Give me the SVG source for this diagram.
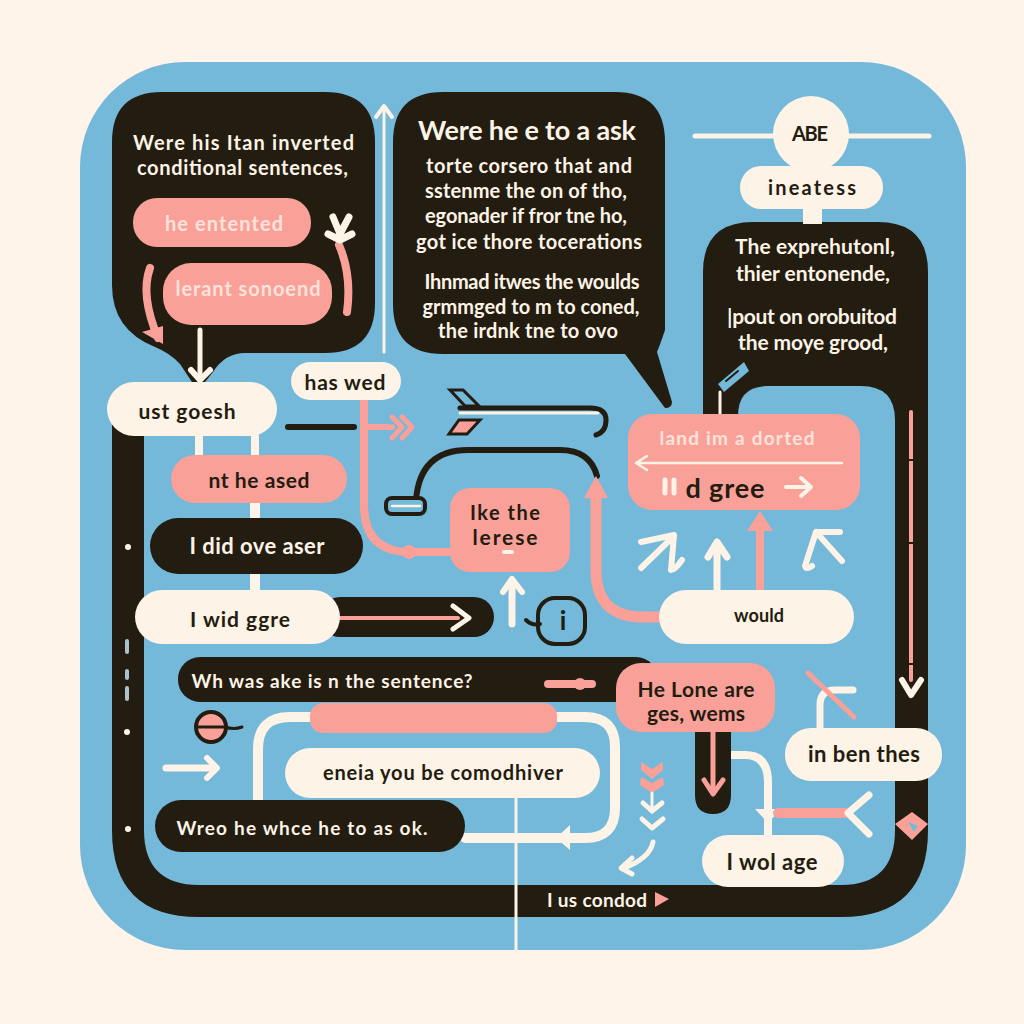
<svg xmlns="http://www.w3.org/2000/svg" width="1024" height="1024" viewBox="0 0 1024 1024">
<style>
text{font-family:"Lato","Liberation Sans",sans-serif;font-weight:700;text-anchor:middle;dominant-baseline:central}
.k{fill:#231c10}.c{fill:#fdf3e6}.p{fill:#f9a199}
.lc{fill:none;stroke:#fdf3e6;stroke-linecap:round;stroke-linejoin:round}
.lp{fill:none;stroke:#f9a199;stroke-linecap:round;stroke-linejoin:round}
.lk{fill:none;stroke:#231c10;stroke-linecap:round;stroke-linejoin:round}
.tc{fill:#fdf3e6}.tk{fill:#231c10}.tl{fill:#fde3da}
</style>
<rect width="1024" height="1024" fill="#fef4ea"/>
<rect x="80" y="62" width="886" height="888" rx="105" fill="#74b8da"/>

<g id="frame">
<path class="k" fill-rule="evenodd" d="M703 425V272Q703 222 753 222H878Q928 222 928 272V830Q928 917 841 917H199Q112 917 112 830V420H144V830Q144 885 199 885H841Q895 885 895 830V420Q895 386 861 386H768Q738 386 738 416V425Z"/>
</g>

<g id="connectors">
<path class="lc" stroke-width="3" d="M384 352V108"/>
<path class="lc" stroke-width="4" d="M376 117L384 106L392 117"/>
<path class="lc" stroke-width="8" d="M199 436V455M255 436V455"/>
<path class="lc" stroke-width="10" d="M255 503V518M255 574V590"/>
<path class="lk" stroke-width="6" d="M288 427H354"/>
<path class="lp" stroke-width="8" d="M364 400V505Q364 552 410 552H450"/>
<path class="lp" stroke-width="6" d="M366 427H392"/>
<path class="lp" stroke-width="5" d="M392 417L402 427L392 438M402 417L412 427L402 438"/>
<circle class="p" cx="409" cy="552" r="7"/>
<path class="lk" stroke-width="5" d="M460 408H590Q606 408 606 420Q606 432 596 435"/>
<path class="lc" stroke-width="3" d="M460 413H598"/>
<path d="M450 390H463L479 406H465Z" fill="#74b8da" stroke="#231c10" stroke-width="3"/>
<path d="M459 420H480L467 434H449Z" fill="#f9a199" stroke="#231c10" stroke-width="3"/>
<path class="lk" stroke-width="6" d="M416 500Q420 450 468 450H560Q590 450 597 476"/>
<rect x="386" y="498" width="39" height="16" rx="6" fill="#74b8da" stroke="#231c10" stroke-width="4"/>
<path class="lc" stroke-width="2.500" d="M392 506H420"/>
<path class="lp" stroke-width="11" d="M596 490V570Q596 617 643 617H660"/>
<path class="p" d="M584 498L596 476L608 498L600 498V505H592V498Z"/>
<path class="lc" stroke-width="7" d="M512 624V585"/>
<path class="lc" stroke-width="6" d="M503 592L512 579L522 592"/>
<path class="lc" stroke-width="6" d="M641 568L674 536M641 542L674 535L671 570Q675 570 682 560"/>
<path class="lc" stroke-width="7" d="M717 590V545"/>
<path class="lc" stroke-width="7" d="M708 557L717 542L727 557"/>
<path class="lp" stroke-width="8" d="M760 590V525"/>
<path class="p" d="M747 531L760 511L773 531Z"/>
<path class="lc" stroke-width="6" d="M842 561L816 532M840 532H816L805 566Q806 570 812 566"/>
<path class="lp" stroke-width="4" d="M911 412V680"/>
<path class="lk" stroke-width="2" d="M906 460H916M906 543H916M906 664H916"/>
<path class="lc" stroke-width="6" d="M902 680L911 695L921 680"/>
<path class="lc" stroke-width="3" d="M720 392V414"/>
<path d="M718 384L744 362L749 371L724 392Z" fill="#74b8da"/>
<path class="lk" stroke-width="2" d="M726 381L738 371"/>
<path class="lc" stroke-width="8" d="M732 755H745Q768 755 768 782V835"/>
<path class="c" d="M755 809H781L768 823Z"/>
<path class="lp" stroke-width="10" stroke-linecap="butt" d="M778 813H845"/>
<path class="lc" stroke-width="7" d="M869 795L848 813L869 834"/>
<path class="lc" stroke-width="7" d="M820 728V705Q820 690 835 690H853"/>
<path class="lp" stroke-width="5" d="M808 673L854 717"/>
<path class="lc" stroke-width="10" d="M310 717H290Q258 717 258 749V800"/>
<path class="lc" stroke-width="10" d="M557 717H585Q615 717 615 747V808Q615 838 585 838H465"/>
<path class="c" d="M570 825V850L556 838Z"/>
<path class="lc" stroke-width="3" d="M516 798V950"/>
<circle cx="211" cy="727" r="15" fill="#f9a199" stroke="#231c10" stroke-width="4"/>
<path class="lk" stroke-width="3" d="M198 727H225"/>
<path class="lk" stroke-width="3" d="M225 727Q234 730 242 727"/>
<path class="lc" stroke-width="7" d="M166 768H214"/>
<path class="lc" stroke-width="6" d="M207 758L217 768L207 778"/>
<circle class="c" cx="128" cy="547" r="3"/>
<circle class="c" cx="127" cy="732" r="3"/>
<circle class="c" cx="128" cy="829" r="3"/>
<path stroke="#a9c2cc" stroke-width="4" stroke-linecap="round" d="M127 641V652M127 671V678M127 688V699"/>
<path class="p" d="M641 762L652 769L663 762L663 770L652 779L641 770ZM641 777L652 783L663 777L664 785L652 793L640 785Z"/>
<path class="lc" stroke-width="3" d="M652 793V812"/>
<path class="lc" stroke-width="5" d="M643 803L652 811L662 803M642 819L652 828L663 819"/>
<path class="lc" stroke-width="5" d="M653 842Q650 858 624 868"/>
<path class="lc" stroke-width="5" d="M632 858L621 868L632 874"/>
</g>

<g id="bubble-inverted">
<path class="k" d="M162 92H325Q375 92 375 142V303Q375 353 325 353H245Q225 353 213 372L205 382H192L180 364Q170 353 155 347Q112 330 112 285V142Q112 92 162 92Z"/>
<text class="tc" x="243.500" y="142" font-size="20" textLength="221">Were his Itan inverted</text>
<text class="tc" x="242.500" y="167" font-size="20" textLength="211">conditional sentences,</text>
<rect class="p" x="133" y="198" width="178" height="49" rx="24"/>
<text class="tl" x="224" y="223" font-size="20" textLength="118">he  entented</text>
<rect class="p" x="163" y="263" width="169" height="62" rx="28"/>
<text class="tl" x="248" y="288" font-size="20" textLength="145">lerant sonoend</text>
<path class="lp" stroke-width="8" d="M150 268Q140 295 158 338"/>
<path class="p" d="M142 332L163 326L163 344Z"/>
<path class="lp" stroke-width="8" d="M347 312Q352 275 339 245"/>
<path class="lc" stroke-width="7" d="M333 217L340 234L349 217M328 234L340 240L352 234"/>
<path class="lc" stroke-width="5" d="M200 330V378"/>
<path class="lc" stroke-width="6" d="M191 370L200 380L210 370"/>
</g>

<g id="bubble-ask">
<path class="k" d="M443 92H615Q665 92 665 142V330Q660 345 657 352L672 402Q672 408 665 408L625 354H443Q393 354 393 304V142Q393 92 443 92Z"/>
<text class="tc" x="527" y="129" font-size="27" textLength="218">Were he e to a ask</text>
<text class="tc" x="529" y="165" font-size="20" textLength="206">torte corsero that and</text>
<text class="tc" x="526" y="190" font-size="20" textLength="202">sstenme the on of tho,</text>
<text class="tc" x="526" y="215" font-size="20" textLength="202">egonader if fror tne ho,</text>
<text class="tc" x="529" y="241" font-size="20" textLength="226">got ice thore tocerations</text>
<text class="tc" x="532" y="281" font-size="20" textLength="215">Ihnmad itwes the woulds</text>
<text class="tc" x="531" y="306" font-size="20" textLength="217">grmmged to m to coned,</text>
<text class="tc" x="528" y="330" font-size="20" textLength="180">the irdnk tne to ovo</text>
</g>

<g id="node-abe">
<path class="lc" stroke-width="5" d="M695 136H929" stroke="#e8fbf5"/>
<circle class="c" cx="811" cy="134" r="38"/>
<text class="tk" x="810" y="133" font-size="20" textLength="36">ABE</text>
</g>
<g id="node-ineatess">
<rect class="c" x="803" y="205" width="19" height="19"/>
<rect class="c" x="740" y="166" width="143" height="43" rx="21"/>
<text class="tk" x="812" y="187" font-size="20" textLength="88">ineatess</text>
</g>
<g id="node-expression">
<text class="tc" x="815" y="245" font-size="21" textLength="160">The exprehutonl,</text>
<text class="tc" x="813" y="272" font-size="21" textLength="154">thier entonende,</text>
<text class="tc" x="812" y="315" font-size="21" textLength="170">|pout on orobuitod</text>
<text class="tc" x="813" y="341" font-size="21" textLength="150">the moye grood,</text>
</g>

<g id="node-ust"><rect class="c" x="107" y="382" width="170" height="54" rx="27"/>
<text class="tk" x="187" y="410" font-size="21" textLength="97">ust goesh</text></g>
<g id="node-has"><rect class="c" x="291" y="362" width="110" height="38" rx="19"/>
<text class="tk" x="345" y="381" font-size="21" textLength="81">has wed</text></g>
<g id="node-nt"><rect class="p" x="171" y="455" width="176" height="48" rx="24"/>
<text class="tk" x="259" y="479" font-size="21" textLength="101">nt he ased</text></g>
<g id="node-did"><rect class="k" x="150" y="518" width="213" height="56" rx="28"/>
<text class="tc" x="257" y="545" font-size="22" textLength="135">I did ove aser</text></g>
<g id="node-wid">
<rect class="k" x="320" y="597" width="174" height="40" rx="20"/>
<path class="lp" stroke-width="4" d="M340 618H458"/>
<path class="lc" stroke-width="5" d="M453 606L469 618L453 629"/>
<rect class="c" x="135" y="590" width="205" height="54" rx="27"/>
<text class="tk" x="240" y="618" font-size="21" textLength="100">I wid ggre</text></g>
<g id="node-like"><rect class="p" x="450" y="488" width="120" height="84" rx="20"/>
<text class="tk" x="505" y="512" font-size="20" textLength="70">Ike the</text>
<text class="tk" x="505" y="536" font-size="21" textLength="65">lerese</text>
<path class="lc" stroke-width="4" d="M504 552H512" stroke="#fde3da"/></g>
<g id="node-info">
<rect x="538" y="598" width="47" height="46" rx="17" fill="none" stroke="#231c10" stroke-width="4"/>
<path class="lk" stroke-width="4" d="M526 620Q532 626 540 624"/>
<text class="tk" x="563" y="620" font-size="26">i</text></g>
<g id="node-land"><rect class="p" x="628" y="414" width="232" height="96" rx="24"/>
<text class="tl" x="737" y="437" font-size="19" textLength="155">land im a dorted</text>
<path class="lc" stroke-width="2.500" d="M638 463H842M647 456L636 463L647 470"/>
<path class="lc" stroke-width="5" d="M665 480V493M674 480V493"/>
<text class="tk" x="725" y="487" font-size="27" textLength="79">d gree</text>
<path class="lc" stroke-width="4" d="M786 487H810M801 478L811 487L801 496"/></g>
<g id="node-would"><rect class="c" x="659" y="590" width="195" height="54" rx="27"/>
<text class="tk" x="759" y="615" font-size="18" textLength="50">would</text></g>
<g id="node-who"><rect class="k" x="178" y="657" width="480" height="45" rx="22"/>
<text class="tc" x="332" y="680" font-size="19" textLength="281">Wh was ake is n the sentence?</text>
<path class="lp" stroke-width="8" d="M548 684H592"/>
<circle class="p" cx="580" cy="684" r="6"/></g>
<g id="bar"><rect class="p" x="310" y="703" width="247" height="30" rx="13"/></g>
<g id="node-heone"><path class="k" d="M695 725H731V795Q731 814 713 814Q695 814 695 795Z"/>
<path class="lp" stroke-width="5" d="M713 732V790"/>
<path class="lp" stroke-width="5" d="M704 780L713 794L723 780"/>
<rect class="p" x="616" y="663" width="159" height="69" rx="25"/>
<text class="tk" x="696" y="688" font-size="21" textLength="117">He Lone are</text>
<text class="tk" x="696" y="712" font-size="21" textLength="98">ges, wems</text></g>
<g id="node-comodhiver"><rect class="c" x="285" y="748" width="315" height="50" rx="25"/>
<text class="tk" x="443" y="772" font-size="20" textLength="240">eneia you be comodhiver</text></g>
<g id="node-wreo"><rect class="k" x="155" y="800" width="310" height="52" rx="26"/>
<text class="tc" x="302" y="827" font-size="19" textLength="251">Wreo he whce he to as ok.</text></g>
<g id="node-ben"><rect class="c" x="785" y="728" width="157" height="53" rx="26"/>
<text class="tk" x="864" y="753" font-size="22" textLength="112">in ben thes</text></g>
<g id="node-wol"><rect class="c" x="702" y="835" width="142" height="52" rx="26"/>
<text class="tk" x="772" y="861" font-size="22" textLength="91">I wol age</text></g>
<g id="node-cond">
<text class="tc" x="597" y="899" font-size="19" textLength="100">I us condod</text>
<path class="p" d="M655 892L669 899L655 907Z"/></g>
<g id="diamond"><path class="p" d="M912 812L928 824L912 840L895 824Z"/><path d="M908 822L918 826L914 832Z" fill="#74b8da"/></g>
</svg>
